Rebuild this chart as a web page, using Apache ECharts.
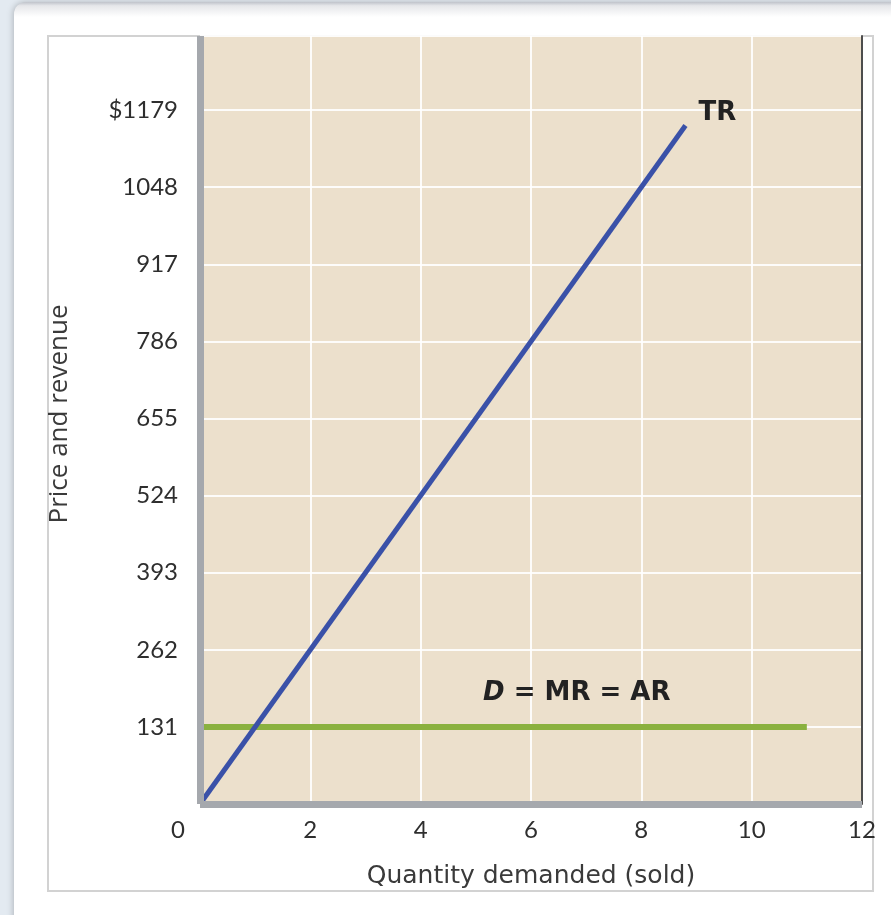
<!DOCTYPE html>
<html>
<head>
<meta charset="utf-8">
<script src="https://cdn.jsdelivr.net/npm/echarts@6/dist/echarts.min.js"></script>
<style>
html,body{margin:0;padding:0;background:#e3eaf1;}
#chart{width:891px;height:915px;}
</style>
</head>
<body>
<div id="chart"></div>
<script>
// ---- data ----
const trQuantity = [0, 8.8];
const trRevenue = [0, 1153];
const dQuantity = [0, 11];
const dPrice = [131, 131];
const xTickValues = [0, 2, 4, 6, 8, 10, 12];
const yTickValues = [131, 262, 393, 524, 655, 786, 917, 1048, 1179];
const yTickLabels = ['131', '262', '393', '524', '655', '786', '917', '1048', '$1179'];
const trName = 'TR';
const dName = 'D = MR = AR';
const xTitle = 'Quantity demanded (sold)';
const yTitle = 'Price and revenue';

const X_MAX = 12, Y_MAX = 1305, Y_STEP = 131;

const trData = trQuantity.map((q, i) => [q, trRevenue[i]]);
const dData = dQuantity.map((q, i) => [q, dPrice[i]]);

const chart = echarts.init(document.getElementById('chart'), null, {renderer: 'canvas'});

const tickFont = 'Lato, "Open Sans", sans-serif';
const boldFont = '"DejaVu Sans", sans-serif';

const option = {
  backgroundColor: '#e3eaf1',
  animation: false,
  graphic: [
    {
      type: 'rect', z: -10,
      shape: {x: 14, y: 2, width: 900, height: 940, r: [12, 0, 0, 0]},
      style: {
        fill: new echarts.graphic.LinearGradient(0, 0, 0, 1, [
          {offset: 0, color: '#bfc3ca'},
          {offset: 0.004, color: '#e6e7ea'},
          {offset: 0.016, color: '#ffffff'},
          {offset: 1, color: '#ffffff'}
        ]),
        shadowBlur: 6, shadowColor: 'rgba(0,0,0,0.22)', shadowOffsetX: -1
      }
    },
    {
      type: 'rect', z: -9,
      shape: {x: 48, y: 36, width: 825, height: 855},
      style: {fill: '#ffffff', stroke: '#d2d2d2', lineWidth: 2}
    }
  ],
  grid: {
    left: 200, right: 29, top: 36, bottom: 111,
    show: true, backgroundColor: '#ece0cc', borderWidth: 0
  },
  xAxis: [
    {
      type: 'value', min: 0, max: X_MAX, interval: 2,
      axisLine: {show: false},
      axisTick: {show: false},
      splitLine: {show: true, lineStyle: {color: 'rgba(255,255,255,0.9)', width: 2}},
      axisLabel: {
        show: true, margin: 14, color: '#2e2e2e',
        fontFamily: tickFont, fontSize: 24,
        formatter: function (v) {
          if (xTickValues.indexOf(v) < 0) return '';
          return v === 0 ? '{z|' + v + '}' : String(v);
        },
        rich: {z: {padding: [0, 44, 0, 0], fontFamily: tickFont, fontSize: 24, color: '#2e2e2e'}}
      },
      name: xTitle, nameLocation: 'middle', nameGap: 60,
      nameTextStyle: {fontFamily: '"DejaVu Sans", sans-serif', fontSize: 25, color: '#3a3a3a'}
    },
    {
      type: 'value', min: 0, max: X_MAX, position: 'bottom', z: 5,
      axisLine: {show: true, lineStyle: {color: '#a5a8ad', width: 7, cap: 'butt'}},
      axisTick: {show: false}, axisLabel: {show: false}, splitLine: {show: false}
    }
  ],
  yAxis: [
    {
      type: 'value', min: 0, max: Y_MAX, interval: Y_STEP,
      axisLine: {show: false},
      axisTick: {show: false},
      splitLine: {show: true, lineStyle: {color: 'rgba(255,255,255,0.9)', width: 2}},
      axisLabel: {
        show: true, margin: 22, color: '#2e2e2e',
        fontFamily: tickFont, fontSize: 24,
        showMinLabel: false, showMaxLabel: false,
        formatter: function (v) {
          const i = yTickValues.indexOf(v);
          return i < 0 ? '' : yTickLabels[i];
        }
      },
      name: yTitle, nameLocation: 'middle', nameGap: 127,
      nameTextStyle: {fontFamily: '"Open Sans", sans-serif', fontSize: 26, color: '#3a3a3a', padding: [0, 0, 0, 12]}
    },
    {
      type: 'value', min: 0, max: Y_MAX, position: 'left', z: 5,
      axisLine: {show: true, lineStyle: {color: '#a5a8ad', width: 7, cap: 'butt'}},
      axisTick: {show: false}, axisLabel: {show: false}, splitLine: {show: false}
    },
    {
      type: 'value', min: 0, max: Y_MAX, position: 'right', z: 5,
      axisLine: {show: true, lineStyle: {color: '#4d4d4d', width: 2}},
      axisTick: {show: false}, axisLabel: {show: false}, splitLine: {show: false}
    }
  ],
  series: [
    {
      name: dName, type: 'line', xAxisIndex: 0, yAxisIndex: 0,
      data: dData, showSymbol: false, symbol: 'none',
      lineStyle: {color: '#8ab13f', width: 6, cap: 'butt'},
      markPoint: {
        symbol: 'circle', symbolSize: 1,
        itemStyle: {color: 'rgba(0,0,0,0)'},
        data: [{coord: [6.83, 131], value: 0}],
        label: {
          show: true, position: 'inside', offset: [0, -34],
          formatter: '{i|D}{b| = MR = AR}',
          rich: {
            i: {fontFamily: boldFont, fontWeight: 'bold', fontStyle: 'italic', fontSize: 26, color: '#222'},
            b: {fontFamily: boldFont, fontWeight: 'bold', fontSize: 26, color: '#222'}
          }
        }
      }
    },
    {
      name: trName, type: 'line', xAxisIndex: 0, yAxisIndex: 0,
      data: trData, showSymbol: false, symbol: 'none',
      lineStyle: {color: '#3a51a8', width: 5, cap: 'butt'},
      endLabel: {
        show: true, formatter: trName, distance: 13, offset: [0, -12],
        fontFamily: boldFont, fontWeight: 'bold', fontSize: 26, color: '#222'
      }
    }
  ]
};
chart.setOption(option);
</script>
</body>
</html>
